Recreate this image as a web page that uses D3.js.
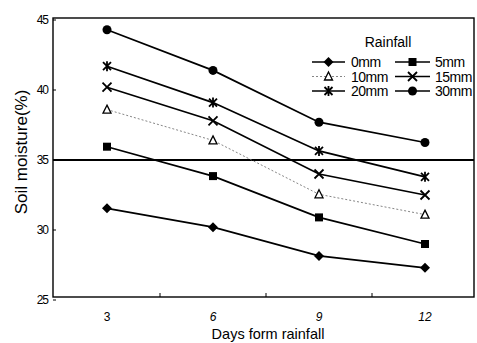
<!DOCTYPE html>
<html>
<head>
<meta charset="utf-8">
<script src="https://cdn.jsdelivr.net/npm/d3@7"></script>
<style>
  body { margin: 0; background: #fff; }
  svg text { font-family: "Liberation Sans", Arial, sans-serif; fill: #000; }
</style>
</head>
<body>
<svg id="chart" width="477" height="343"></svg>
<script>
const days = ["3", "6", "9", "12"];
const rain0 = [31.55, 30.2, 28.15, 27.3];
const rain5 = [35.95, 33.85, 30.9, 29.0];
const rain10 = [38.6, 36.4, 32.55, 31.1];
const rain15 = [40.2, 37.8, 34.0, 32.5];
const rain20 = [41.7, 39.1, 35.65, 33.8];
const rain30 = [44.3, 41.4, 37.7, 36.25];
const seriesNames = ["0mm", "5mm", "10mm", "15mm", "20mm", "30mm"];
const yTicks = [25, 30, 35, 40, 45];

const series = [
  { name: seriesNames[0], values: rain0, marker: "diamond" },
  { name: seriesNames[1], values: rain5, marker: "square" },
  { name: seriesNames[2], values: rain10, marker: "triangle" },
  { name: seriesNames[3], values: rain15, marker: "cross" },
  { name: seriesNames[4], values: rain20, marker: "star" },
  { name: seriesNames[5], values: rain30, marker: "circle" }
];

const svg = d3.select("#chart");
const plotLeft = 53, plotRight = 474, plotTop = 18, plotBottom = 297;

const x = d3.scaleBand().domain(days).range([plotLeft + 1, plotLeft + 1 + 106 * 4]);
const y = d3.scaleLinear().domain([25, 45]).range([300, 20]);

// frame
svg.append("rect")
  .attr("x", plotLeft).attr("y", plotTop)
  .attr("width", plotRight - plotLeft).attr("height", plotBottom - plotTop)
  .attr("fill", "none").attr("stroke", "#000").attr("stroke-width", 1.4);

// y axis ticks + labels
svg.selectAll(".ytick").data(yTicks).enter().append("line")
  .attr("x1", plotLeft).attr("x2", plotLeft + 3)
  .attr("y1", d => y(d)).attr("y2", d => y(d))
  .attr("stroke", "#000");
svg.selectAll(".ylab").data(yTicks).enter().append("text")
  .attr("x", plotLeft - 5).attr("y", d => y(d) + 4)
  .attr("text-anchor", "end").attr("font-size", 12)
  .attr("letter-spacing", -1)
  .text(d => d);

// x axis ticks at band boundaries
svg.selectAll(".xtick").data(days.slice(1)).enter().append("line")
  .attr("x1", d => x(d)).attr("x2", d => x(d))
  .attr("y1", plotBottom).attr("y2", plotBottom - 4)
  .attr("stroke", "#000");
svg.selectAll(".xlab").data(days).enter().append("text")
  .attr("x", d => x(d) + x.bandwidth() / 2).attr("y", 321)
  .attr("text-anchor", "middle").attr("font-size", 12)
  .attr("font-style", (d, i) => i === 0 ? "normal" : "italic")
  .text(d => d);

// reference line at 35
svg.append("line")
  .attr("x1", plotLeft).attr("x2", plotRight)
  .attr("y1", y(35)).attr("y2", y(35))
  .attr("stroke", "#000").attr("stroke-width", 2);

// axis titles
svg.append("text")
  .attr("transform", "translate(27,152) rotate(-90)")
  .attr("text-anchor", "middle").attr("font-size", 17)
  .text("Soil moisture(%)");
svg.append("text")
  .attr("x", 268).attr("y", 339)
  .attr("text-anchor", "middle").attr("font-size", 14.5)
  .text("Days form rainfall");

function drawMarker(g, type, cx, cy) {
  if (type === "diamond") {
    g.append("path").attr("d", `M${cx},${cy - 5}L${cx + 5},${cy}L${cx},${cy + 5}L${cx - 5},${cy}Z`).attr("fill", "#000");
  } else if (type === "square") {
    g.append("rect").attr("x", cx - 4).attr("y", cy - 4).attr("width", 8).attr("height", 8).attr("fill", "#000");
  } else if (type === "triangle") {
    g.append("path").attr("d", `M${cx},${cy - 4.5}L${cx + 4},${cy + 3.5}L${cx - 4},${cy + 3.5}Z`)
      .attr("fill", "#fff").attr("stroke", "#000").attr("stroke-width", 1.3);
  } else if (type === "cross") {
    g.append("path").attr("d", `M${cx - 4.5},${cy - 4.5}L${cx + 4.5},${cy + 4.5}M${cx + 4.5},${cy - 4.5}L${cx - 4.5},${cy + 4.5}`)
      .attr("stroke", "#000").attr("stroke-width", 1.8);
  } else if (type === "star") {
    g.append("path").attr("d", `M${cx - 4},${cy - 4}L${cx + 4},${cy + 4}M${cx + 4},${cy - 4}L${cx - 4},${cy + 4}M${cx},${cy - 5}L${cx},${cy + 5}`)
      .attr("stroke", "#000").attr("stroke-width", 1.8);
  } else if (type === "circle") {
    g.append("circle").attr("cx", cx).attr("cy", cy).attr("r", 4.5).attr("fill", "#000");
  }
}

const line = d3.line()
  .x((d, i) => x(days[i]) + x.bandwidth() / 2)
  .y(d => y(d));

series.forEach(s => {
  const dotted = s.marker === "triangle";
  svg.append("path")
    .attr("d", line(s.values))
    .attr("fill", "none")
    .attr("stroke", dotted ? "#777" : "#000")
    .attr("stroke-width", dotted ? 0.9 : 1.7)
    .attr("stroke-dasharray", dotted ? "2,2" : null);
  const g = svg.append("g");
  s.values.forEach((v, i) => drawMarker(g, s.marker, x(days[i]) + x.bandwidth() / 2, y(v)));
});

// legend
svg.append("text")
  .attr("x", 388).attr("y", 47)
  .attr("text-anchor", "middle").attr("font-size", 14)
  .text("Rainfall");

const legCols = [{ x1: 312, x2: 345, tx: 351 }, { x1: 395, x2: 430, tx: 435 }];
const legRows = [62, 76.5, 91];
series.forEach((s, i) => {
  const c = legCols[i % 2], ry = legRows[Math.floor(i / 2)];
  const dotted = s.marker === "triangle";
  const g = svg.append("g");
  g.append("line")
    .attr("x1", c.x1).attr("x2", c.x2).attr("y1", ry).attr("y2", ry)
    .attr("stroke", dotted ? "#777" : "#000")
    .attr("stroke-width", dotted ? 0.9 : 1.3)
    .attr("stroke-dasharray", dotted ? "2,2" : null);
  drawMarker(g, s.marker, (c.x1 + c.x2) / 2, ry);
  g.append("text")
    .attr("x", c.tx).attr("y", ry + 5)
    .attr("font-size", 14)
    .attr("letter-spacing", -0.5)
    .text(s.name);
});
</script>
</body>
</html>
